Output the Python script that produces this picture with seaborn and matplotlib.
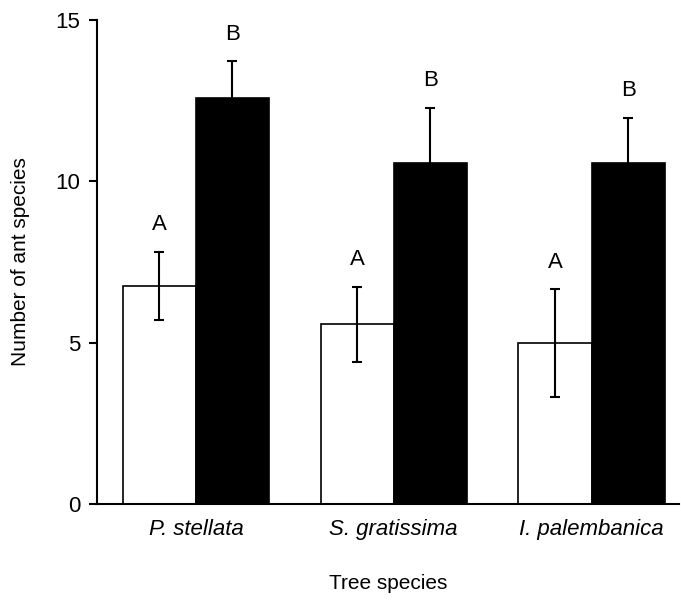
import matplotlib
matplotlib.use("Agg")
import matplotlib.pyplot as plt
import seaborn as sns
import pandas as pd

#%% Data
trees = ["P. stellata", "S. gratissima", "I. palembanica"]
groups = ["Group 1", "Group 2"]
means_white = [6.75, 5.57, 4.99]
se_white = [1.06, 1.17, 1.66]
means_black = [12.58, 10.57, 10.58]
se_black = [1.14, 1.71, 1.38]
letters_white = ["A", "A", "A"]
letters_black = ["B", "B", "B"]

df = pd.DataFrame({
    "tree": trees * 2,
    "group": [groups[0]] * 3 + [groups[1]] * 3,
    "value": means_white + means_black,
})

#%% Plot
sns.set_style("white")
plt.rcParams["font.family"] = ["Liberation Sans", "DejaVu Sans"]
plt.rcParams["text.color"] = "black"
plt.rcParams["axes.labelcolor"] = "black"
plt.rcParams["xtick.color"] = "black"
plt.rcParams["ytick.color"] = "black"

fig = plt.figure(figsize=(6.81, 6.03), dpi=100)
ax = fig.add_axes([0.1424, 0.1642, 0.854, 0.8026])

sns.barplot(data=df, x="tree", y="value", hue="group", order=trees, hue_order=groups,
            palette=["white", "black"], edgecolor="black", linewidth=1.2,
            width=0.74, errorbar=None, legend=False, ax=ax)

errs = [se_white, se_black]
labs = [letters_white, letters_black]
for cont, e, lab in zip(ax.containers, errs, labs):
    xs = [p.get_x() + p.get_width() / 2 for p in cont]
    hs = [p.get_height() for p in cont]
    ax.errorbar(xs, hs, yerr=e, fmt="none", ecolor="black", elinewidth=1.5,
                capsize=3.6, capthick=1.5, zorder=5)
    for x, h, err, t in zip(xs, hs, e, lab):
        ax.annotate(t, (x, h + err), xytext=(0, 12), textcoords="offset points",
                    ha="center", va="bottom", fontsize=16)

ax.set_ylim(0, 15)
ax.set_xlim(-0.5, 2.44)
ax.set_yticks([0, 5, 10, 15])
ax.set_ylabel("Number of ant species", fontsize=15, labelpad=18)
ax.set_xlabel("Tree species", fontsize=15, labelpad=24)
ax.tick_params(axis="y", direction="out", length=6, width=1.5, labelsize=16, pad=6, left=True)
ax.tick_params(axis="x", length=0, labelsize=16, pad=11)
for lbl in ax.get_xticklabels():
    lbl.set_style("italic")
sns.despine(ax=ax)
for s in ["left", "bottom"]:
    ax.spines[s].set_linewidth(1.5)
    ax.spines[s].set_color("black")

fig.savefig("out.png", dpi=100)
